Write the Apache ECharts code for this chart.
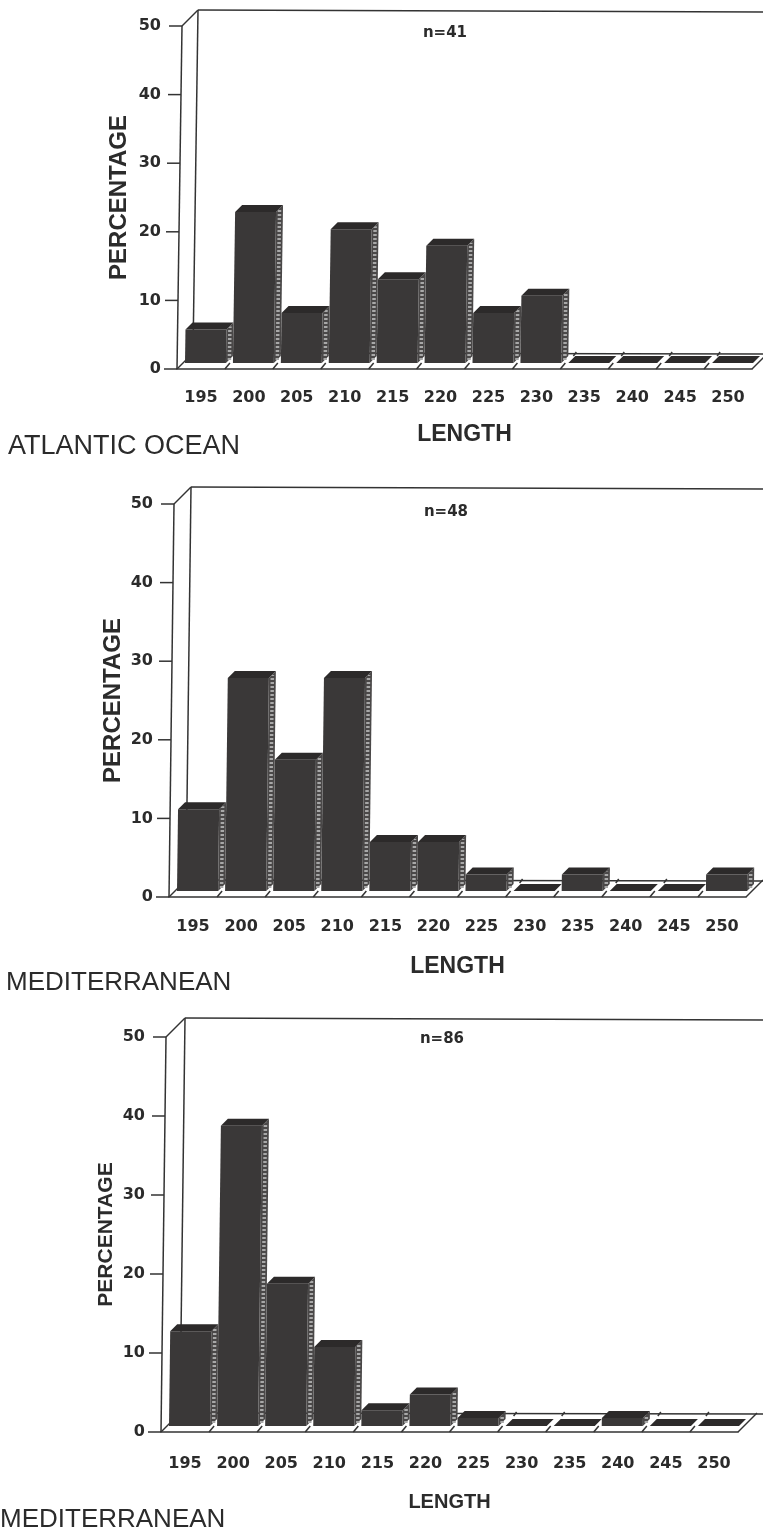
<!DOCTYPE html>
<html><head><meta charset="utf-8">
<style>html,body{margin:0;padding:0;background:#fff}#c{width:763px;height:1532px}</style>
<script src="https://cdn.jsdelivr.net/npm/echarts@6/dist/echarts.min.js"></script>
</head><body><div id="c"></div>
<script>
const categories = ['195','200','205','210','215','220','225','230','235','240','245','250'];
const yTicks = [0,10,20,30,40,50];
const atlantic = [4.9,22,7.3,19.5,12.2,17.1,7.3,9.8,0,0,0,0];
const medA = [10.4,27.1,16.7,27.1,6.25,6.25,2.1,0,2.1,0,0,2.1];
const medB = [12,38,18,10,2,4,1,0,0,1,0,0];
const nLabels = ['n=41','n=48','n=86'];
const regionLabels = ['ATLANTIC OCEAN','MEDITERRANEAN','MEDITERRANEAN'];
const yName = 'PERCENTAGE', xName = 'LENGTH';

const panels = [
 {data:atlantic,left:177,top:26,w:575,h:343,nx:440,ny:28,rx:3,ry:442,rf:27,nameGapX:54,marginX:21,depth:16,nameFont:24,lenFont:23,nameGapY:46},
 {data:medA,left:169,top:504,w:577,h:393,nx:441,ny:507,rx:1,ry:978,rf:26,nameGapX:58,marginX:22,depth:17,nameFont:24,lenFont:23,nameGapY:44},
 {data:medB,left:161,top:1037,w:577,h:395,nx:437,ny:1034,rx:-5,ry:1515,rf:26,nameGapX:60,marginX:24,depth:19,nameFont:21,lenFont:20,nameGapY:44}
];
const ink='#2b2b2b', dark='#3a3838', darker='#2c2a2a';
const lineS={stroke:'#333',lineWidth:1.5,fill:null};
function seg(a,b,st){return {type:'line',shape:{x1:a[0],y1:a[1],x2:b[0],y2:b[1]},style:st||lineS,silent:true};}
const skewPerUnit=0.1;

const grid=[],xAxis=[],yAxis=[],series=[],title=[];
panels.forEach((p,k)=>{
  grid.push({left:p.left,top:p.top,width:p.w,height:p.h});
  xAxis.push({type:'category',gridIndex:k,data:categories,boundaryGap:true,name:xName,nameLocation:'middle',nameGap:p.nameGapX,nameMoveOverlap:false,
    nameTextStyle:{fontFamily:'Liberation Sans',fontWeight:'bold',fontSize:p.lenFont,color:ink},
    axisLine:{lineStyle:{color:'#333',width:1.6}},
    axisTick:{alignWithLabel:true,length:7,lineStyle:{color:'#333',width:1.5}},
    axisLabel:{interval:0,margin:p.marginX,fontFamily:'DejaVu Sans',fontWeight:'bold',fontSize:16,color:ink}});
  yAxis.push({type:'value',gridIndex:k,min:0,max:50,interval:10,name:yName,nameLocation:'middle',nameGap:p.nameGapY,nameMoveOverlap:false,
    nameRotate:90,nameTextStyle:{fontFamily:'Liberation Sans',fontWeight:'bold',fontSize:p.nameFont,color:ink},
    splitLine:{show:false},axisLine:{show:false},axisTick:{show:false},
    axisLabel:{margin:16,fontFamily:'DejaVu Sans',fontWeight:'bold',fontSize:16,color:ink}});
  // frame: box walls and y ticks
  series.push({type:'custom',xAxisIndex:k,yAxisIndex:k,silent:true,clip:false,z:1,
    data:yTicks.map(v=>[0,v]),
    encode:{x:0,y:1},
    renderItem(params,api){
      const v=api.value(1), c=api.coord([0,v]), slot=api.size([1,0])[0];
      const x0=c[0]-slot/2, y=c[1], sk=v*skewPerUnit;
      const kids=[seg([x0+sk-13,y],[x0+sk,y])];
      const d=p.depth;
      if(v===0){
        const last=api.coord([categories.length-1,0]);
        const xr=last[0]+slot/2, yf=last[1];
        const topF=api.coord([0,50]);
        const tx=topF[0]-slot/2+50*skewPerUnit, ty=topF[1];
        kids.push(seg([x0,y],[tx,ty]));
        kids.push(seg([tx,ty],[tx+d,ty-d]));
        kids.push(seg([x0,y],[x0+d,y-d]));
        kids.push(seg([x0+d,y-d],[tx+d,ty-d]));
        kids.push(seg([tx+d,ty-d],[800,ty-d+2]));
        kids.push(seg([x0+d,y-d],[800,y-d+1]));
        kids.push(seg([xr,yf],[xr+d,yf-d]));
        for(let i=1;i<categories.length;i++){
          const xi=x0+i*slot;
          kids.push(seg([xi,y],[xi+5,y-6]));
          kids.push(seg([xi+d-3,y-d+3],[xi+d,y-d-1]));
        }
      }
      return {type:'group',children:kids};
    }});
  // bars
  series.push({type:'custom',xAxisIndex:k,yAxisIndex:k,silent:true,clip:false,z:2,
    data:p.data.map((v,i)=>[i,v]),
    encode:{x:0,y:1},
    renderItem(params,api){
      const i=api.value(0), v=api.value(1);
      const c=api.coord([i,v]), b=api.coord([i,0]), slot=api.size([1,0])[0];
      const inset=8, dp=7, lift=6;
      const sk=v*skewPerUnit;
      const lb=b[0]-slot/2+inset, rb=lb+slot-dp, yb=b[1]-lift;
      const lt=lb+sk, rt=rb+sk, yt=c[1]-lift;
      const kids=[];
      if(v>0){
        kids.push({type:'polygon',shape:{points:[[lb,yb],[rb,yb],[rt,yt],[lt,yt]]},style:{fill:dark}});
        kids.push({type:'polygon',shape:{points:[[rb,yb],[rb+dp,yb-dp],[rt+dp,yt-dp],[rt,yt]]},style:{fill:'#4a4848'}});
        kids.push(seg([rb+3.5,yb-3],[rt+3.5,yt-3],{stroke:'#a8a8a8',lineWidth:3.5,lineDash:[2,2],fill:null}));
      }
      kids.push({type:'polygon',shape:{points:[[lt,yt],[rt,yt],[rt+dp,yt-dp],[lt+dp,yt-dp]]},style:{fill:darker}});
      return {type:'group',children:kids};
    }});
  title.push({text:nLabels[k],left:p.nx,top:p.ny,textAlign:'center',textVerticalAlign:'middle',
    textStyle:{fontFamily:'DejaVu Sans',fontWeight:'bold',fontSize:15,color:ink}});
  title.push({text:regionLabels[k],left:p.rx,top:p.ry,textVerticalAlign:'middle',
    textStyle:{fontFamily:'Liberation Sans',fontWeight:'normal',fontSize:p.rf,color:ink}});
});
const chart=echarts.init(document.getElementById('c'),null,{renderer:'canvas'});
chart.setOption({animation:false,backgroundColor:'#fff',grid,xAxis,yAxis,series,title});
</script></body></html>
